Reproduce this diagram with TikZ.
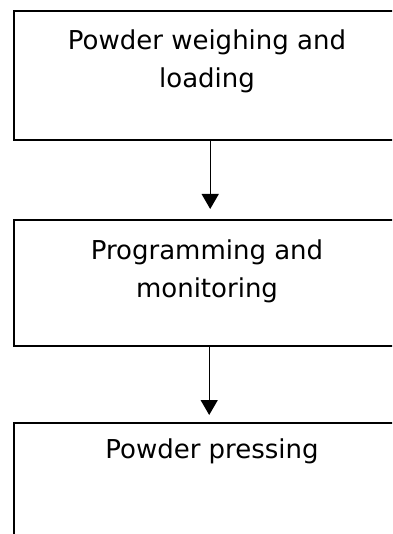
\documentclass[tikz,border=0pt]{standalone}
\usepackage{fontspec}
\setmainfont{DejaVu Sans}
\usetikzlibrary{arrows.meta,calc}
\tikzset{
  stepbox/.style={draw=black, line width=2.4pt, inner sep=0pt, anchor=north west},
  steptext/.style={inner sep=0pt, anchor=north, align=center,
    font=\fontsize{26}{38.5}\selectfont},
  flow/.style={line width=1.4pt, -{Triangle[length=15pt,width=17pt]}}
}
\begin{document}
\begin{tikzpicture}[x=1pt,y=-1pt]
  \useasboundingbox (0,0) rectangle (392,534);
  \clip (0,0) rectangle (392,534);
  % process boxes (run past the right and bottom page edges)
  \node[stepbox, minimum width=388pt, minimum height=129pt] (b1) at (13,10) {};
  \node[stepbox, minimum width=388pt, minimum height=126pt] (b2) at (13,219) {};
  \node[stepbox, minimum width=388pt, minimum height=140pt] (b3) at (13,422) {};
  % labels, set near the top of each box
  \node[steptext] (t1) at (207,29.5) {Powder weighing and\\loading};
  \node[steptext] (t2) at (207,239.5) {Programming and\\monitoring};
  \node[steptext] (t3) at (212,438.5) {Powder pressing};
  % connectors
  \draw[flow, shorten >=10pt] ([xshift=2pt]b1.south) -- ([xshift=2pt]b1.south |- b2.north);
  \draw[flow, shorten >=7pt] ([xshift=1pt]b2.south) -- ([xshift=1pt]b2.south |- b3.north);
\end{tikzpicture}
\end{document}
